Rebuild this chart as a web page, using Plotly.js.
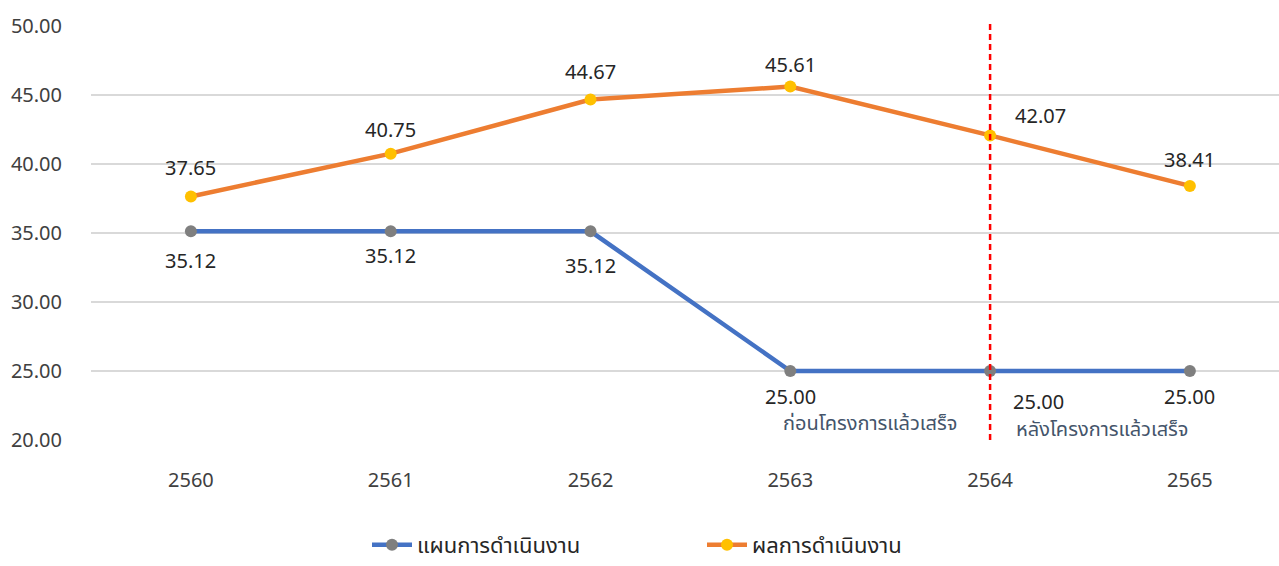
<!DOCTYPE html>
<html><head><meta charset="utf-8">
<script src="https://cdn.plot.ly/plotly-3.0.1.min.js"></script>
<style>body{margin:0;background:#fff}#chart{width:1279px;height:566px}</style>
</head><body><div id="chart"></div>
<script>
const years = ['2560','2561','2562','2563','2564','2565'];
const planValues = [35.12, 35.12, 35.12, 25.00, 25.00, 25.00];
const actualValues = [37.65, 40.75, 44.67, 45.61, 42.07, 38.41];
const planName = 'แผนการดำเนินงาน';
const actualName = 'ผลการดำเนินงาน';
const dividerYear = '2564';
const beforeText = 'ก่อนโครงการแล้วเสร็จ';
const afterText = 'หลังโครงการแล้วเสร็จ';
const yTicks = [20, 25, 30, 35, 40, 45, 50];

const FONT = 'Tahoma, "Noto Sans Thai", "Noto Sans", "DejaVu Sans", sans-serif';
const idx = years.map((y, i) => i);

const traces = [
  {x: idx, y: planValues, name: planName, type: 'scatter', mode: 'lines+markers',
   line: {color: '#4472C4', width: 4.5}, marker: {color: '#7F7F7F', size: 12}, legend: 'legend'},
  {x: idx, y: actualValues, name: actualName, type: 'scatter', mode: 'lines+markers',
   line: {color: '#ED7D31', width: 4.5}, marker: {color: '#FFC000', size: 12}, legend: 'legend2'}
];

const planOffsets = [[0,31],[0,26],[0,36],[0,27],[48,32],[0,27]];
const actualOffsets = [[0,-27],[0,-23],[0,-27],[0,-21],[50,-18],[0,-25]];
const annotations = [];
idx.forEach(i => {
  annotations.push({x: i, y: planValues[i], xref: 'x', yref: 'y', text: planValues[i].toFixed(2),
    showarrow: true, arrowwidth: 0.1, arrowcolor: 'rgba(255,255,255,0)', ax: planOffsets[i][0], ay: planOffsets[i][1],
    font: {family: FONT, size: 20, color: '#262626'}});
  annotations.push({x: i, y: actualValues[i], xref: 'x', yref: 'y', text: actualValues[i].toFixed(2),
    showarrow: true, arrowwidth: 0.1, arrowcolor: 'rgba(255,255,255,0)', ax: actualOffsets[i][0], ay: actualOffsets[i][1],
    font: {family: FONT, size: 20, color: '#262626'}});
});
annotations.push({x: 0.6557, y: 0.038, xref: 'paper', yref: 'paper', xanchor: 'center', yanchor: 'middle',
  text: beforeText, showarrow: false, font: {family: FONT, size: 20, color: '#44546A'}});
annotations.push({x: 0.851, y: 0.024, xref: 'paper', yref: 'paper', xanchor: 'center', yanchor: 'middle',
  text: afterText, showarrow: false, font: {family: FONT, size: 20, color: '#44546A'}});

const divIdx = years.indexOf(dividerYear);
const legendCommon = {orientation: 'h', xref: 'container', yref: 'container', yanchor: 'bottom', y: 0,
  itemwidth: 40, font: {family: FONT, size: 22, color: '#262626'}, bgcolor: 'rgba(0,0,0,0)'};

const layout = {
  width: 1279, height: 566,
  margin: {l: 91, r: 0, t: 26, b: 126},
  paper_bgcolor: '#fff', plot_bgcolor: '#fff',
  font: {family: FONT, size: 20, color: '#404040'},
  showlegend: true,
  legend: Object.assign({}, legendCommon, {x: 367 / 1279, xanchor: 'left'}),
  legend2: Object.assign({}, legendCommon, {x: 702 / 1279, xanchor: 'left'}),
  xaxis: {range: [-0.5, 5.446], tickvals: idx, ticktext: years, showgrid: false, zeroline: false,
    showline: false, ticks: '', ticklabelstandoff: 26, tickfont: {family: FONT, size: 20, color: '#404040'},
    automargin: false},
  yaxis: {range: [20, 50], tickvals: yTicks, ticktext: yTicks.map(v => v.toFixed(2)),
    showgrid: true, gridcolor: '#D9D9D9', gridwidth: 1.5, zeroline: false, showline: false,
    ticks: '', ticklabelstandoff: 28, tickfont: {family: FONT, size: 20, color: '#404040'}, automargin: false},
  shapes: [{type: 'line', xref: 'x', yref: 'paper', x0: divIdx, x1: divIdx, y0: 0, y1: 1.005,
    line: {color: '#FF0000', width: 2.5, dash: '6px,4px'}}],
  annotations: annotations
};
Plotly.newPlot('chart', traces, layout, {displayModeBar: false, responsive: false});
</script></body></html>
